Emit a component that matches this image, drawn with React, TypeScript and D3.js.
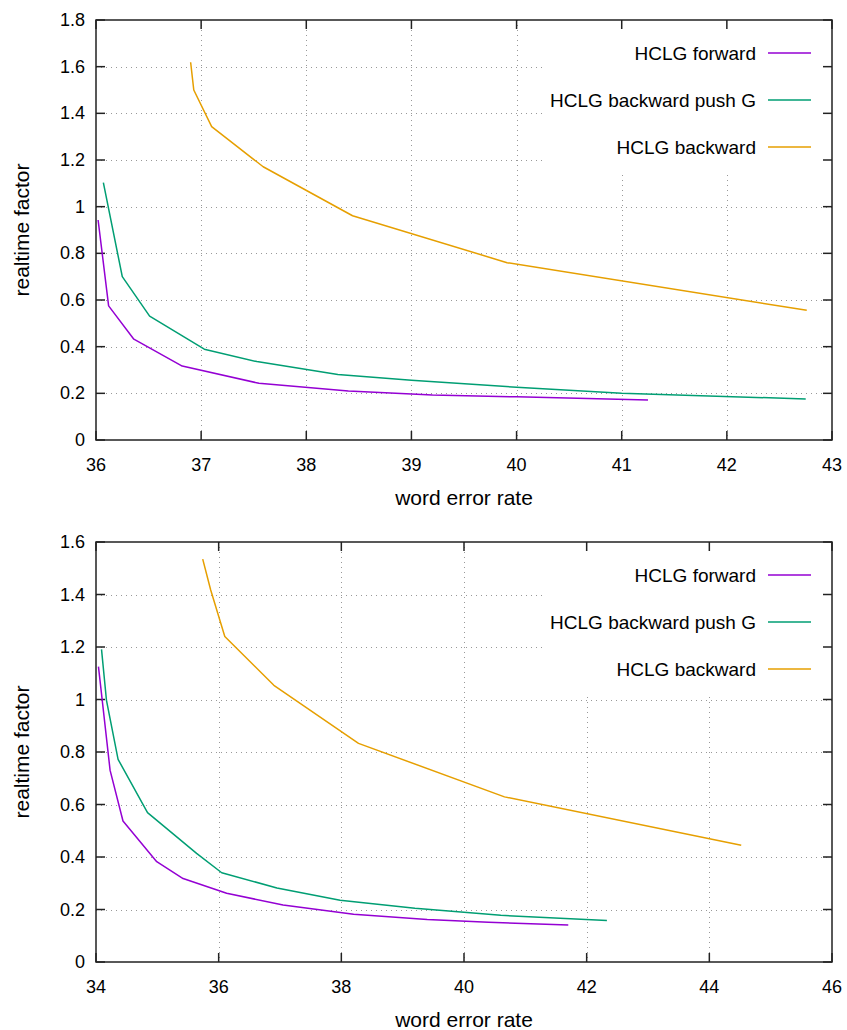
import React, { useEffect, useRef } from 'react'
import * as d3 from 'd3'

// legend / colours (gnuplot default palette)
const seriesNames = ['HCLG forward', 'HCLG backward push G', 'HCLG backward']
const seriesColors = ['#9400d3', '#009e73', '#e69f00']

// top panel
const topXTicks = [36, 37, 38, 39, 40, 41, 42, 43]
const topYTicks = [0, 0.2, 0.4, 0.6, 0.8, 1, 1.2, 1.4, 1.6, 1.8]
const topForwardWer = [36.02, 36.12, 36.36, 36.82, 37.55, 38.4, 39.2, 40.0, 41.25]
const topForwardRtf = [0.943, 0.575, 0.432, 0.317, 0.243, 0.21, 0.193, 0.185, 0.171]
const topPushWer = [36.07, 36.25, 36.51, 37.03, 37.53, 38.3, 39.0, 40.0, 41.0, 42.75]
const topPushRtf = [1.103, 0.7, 0.531, 0.389, 0.336, 0.281, 0.256, 0.226, 0.2, 0.176]
const topBackWer = [36.9, 36.93, 37.1, 37.59, 38.44, 39.91, 42.76]
const topBackRtf = [1.619, 1.5, 1.343, 1.171, 0.961, 0.76, 0.556]

// bottom panel
const botXTicks = [34, 36, 38, 40, 42, 44, 46]
const botYTicks = [0, 0.2, 0.4, 0.6, 0.8, 1, 1.2, 1.4, 1.6]
const botForwardWer = [34.04, 34.23, 34.44, 34.99, 35.42, 36.13, 37.05, 38.2, 39.4, 40.4, 41.7]
const botForwardRtf = [1.125, 0.73, 0.537, 0.382, 0.318, 0.262, 0.217, 0.182, 0.162, 0.151, 0.141]
const botPushWer = [34.09, 34.17, 34.36, 34.84, 35.64, 36.05, 36.95, 37.98, 39.2, 40.6, 42.33]
const botPushRtf = [1.191, 0.998, 0.772, 0.569, 0.414, 0.34, 0.282, 0.235, 0.205, 0.178, 0.158]
const botBackWer = [35.74, 35.87, 36.1, 36.9, 38.28, 40.66, 44.52]
const botBackRtf = [1.535, 1.417, 1.24, 1.054, 0.833, 0.629, 0.445]

const FONT = '"Liberation Sans", Arial, sans-serif'

function drawPanel(svg, top, xTicks, yTicks, wers, rtfs) {
  var left = 96, right = 832, height = 420
  var bottom = top + height

  var x = d3.scaleLinear().domain([xTicks[0], xTicks[xTicks.length - 1]]).range([left, right])
  var y = d3.scaleLinear().domain([0, yTicks[yTicks.length - 1]]).range([bottom, top])
  var fmt = d => String(+d.toFixed(1))

  var g = svg.append('g')

  // grid
  var grid = g.append('g')
    .attr('stroke', '#999')
    .attr('stroke-width', 1)
    .attr('stroke-dasharray', '1,4')
  grid.selectAll('.gx').data(xTicks.slice(1, -1)).enter().append('line')
    .attr('x1', d => Math.round(x(d)) + 0.5).attr('x2', d => Math.round(x(d)) + 0.5)
    .attr('y1', top).attr('y2', bottom)
  grid.selectAll('.gy').data(yTicks.slice(1, -1)).enter().append('line')
    .attr('y1', d => Math.round(y(d)) + 0.5).attr('y2', d => Math.round(y(d)) + 0.5)
    .attr('x1', left).attr('x2', right)

  // opaque key box
  g.append('rect')
    .attr('x', 543).attr('y', top)
    .attr('width', right - 543).attr('height', 155)
    .attr('fill', 'white')

  // ticks on all four sides
  var tk = g.append('g').attr('stroke', '#222').attr('stroke-width', 1.5)
  xTicks.forEach(d => {
    tk.append('line').attr('x1', x(d)).attr('x2', x(d)).attr('y1', bottom).attr('y2', bottom - 9)
    tk.append('line').attr('x1', x(d)).attr('x2', x(d)).attr('y1', top).attr('y2', top + 9)
  })
  yTicks.forEach(d => {
    tk.append('line').attr('y1', y(d)).attr('y2', y(d)).attr('x1', left).attr('x2', left + 9)
    tk.append('line').attr('y1', y(d)).attr('y2', y(d)).attr('x1', right).attr('x2', right - 9)
  })

  // border
  g.append('rect')
    .attr('x', left).attr('y', top)
    .attr('width', right - left).attr('height', height)
    .attr('fill', 'none').attr('stroke', '#222').attr('stroke-width', 1.5)

  // tick labels
  g.selectAll('.xl').data(xTicks).enter().append('text')
    .attr('x', d => x(d)).attr('y', bottom + 31)
    .attr('text-anchor', 'middle')
    .attr('font-family', FONT).attr('font-size', 18)
    .text(fmt)
  g.selectAll('.yl').data(yTicks).enter().append('text')
    .attr('x', left - 11).attr('y', d => y(d) + 6)
    .attr('text-anchor', 'end')
    .attr('font-family', FONT).attr('font-size', 18)
    .text(fmt)

  // axis titles
  g.append('text')
    .attr('x', (left + right) / 2).attr('y', bottom + 65)
    .attr('text-anchor', 'middle')
    .attr('font-family', FONT).attr('font-size', 21)
    .text('word error rate')
  g.append('text')
    .attr('transform', `translate(29,${top + height / 2}) rotate(-90)`)
    .attr('text-anchor', 'middle')
    .attr('font-family', FONT).attr('font-size', 21)
    .text('realtime factor')

  // series lines
  var line = d3.line().x(d => x(d[0])).y(d => y(d[1]))
  wers.forEach((w, i) => {
    var pts = w.map((v, j) => [v, rtfs[i][j]])
    g.append('path').attr('d', line(pts))
      .attr('fill', 'none')
      .attr('stroke', seriesColors[i])
      .attr('stroke-width', 1.5)
      .attr('stroke-linejoin', 'round')
  })

  // key
  seriesNames.forEach((name, i) => {
    var ky = top + 33 + i * 47
    g.append('text')
      .attr('x', 756).attr('y', ky + 7)
      .attr('text-anchor', 'end')
      .attr('font-family', FONT).attr('font-size', 19)
      .text(name)
    g.append('line')
      .attr('x1', 768).attr('x2', 811).attr('y1', ky).attr('y2', ky)
      .attr('stroke', seriesColors[i]).attr('stroke-width', 1.5)
  })
}

export default function App() {
  const ref = useRef(null)

  useEffect(() => {
    var svg = d3.select(ref.current)
    svg.selectAll('*').remove()
    drawPanel(svg, 20, topXTicks, topYTicks,
      [topForwardWer, topPushWer, topBackWer],
      [topForwardRtf, topPushRtf, topBackRtf])
    drawPanel(svg, 542, botXTicks, botYTicks,
      [botForwardWer, botPushWer, botBackWer],
      [botForwardRtf, botPushRtf, botBackRtf])
  }, [])

  return (
    <svg ref={ref} width={847} height={1030}
      style={{ position: 'absolute', left: 0, top: 0, background: 'white' }} />
  )
}
